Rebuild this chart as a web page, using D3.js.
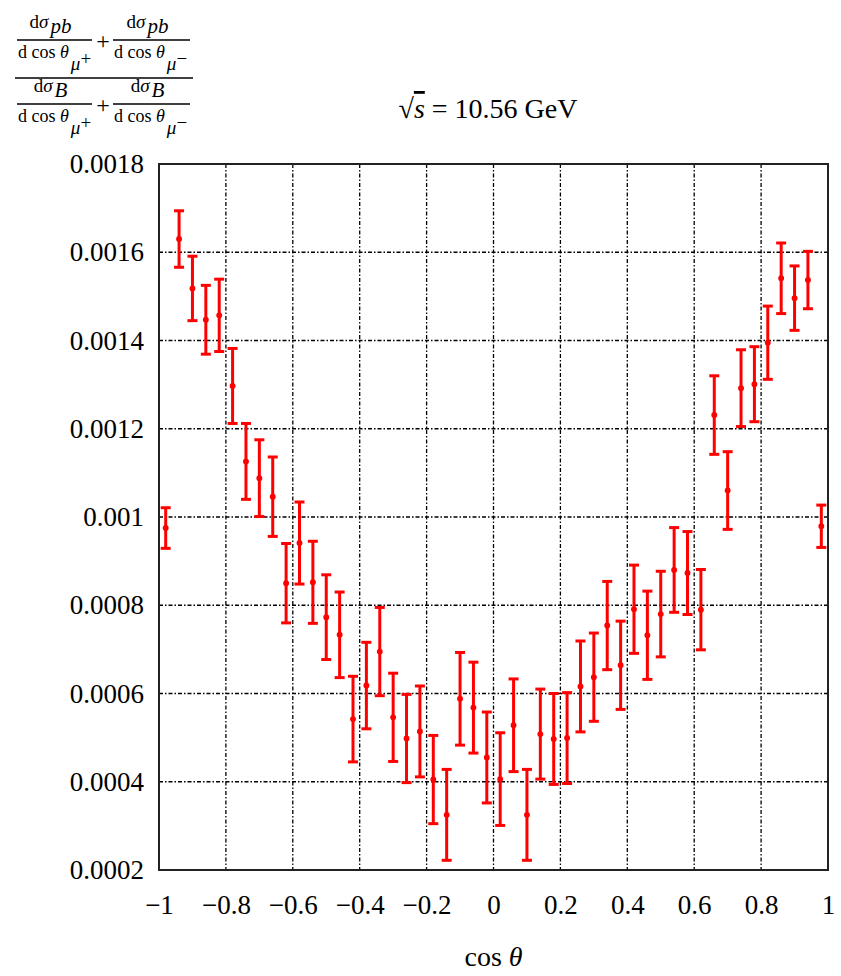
<!DOCTYPE html>
<html>
<head>
<meta charset="utf-8">
<script src="https://cdn.jsdelivr.net/npm/d3@7"></script>
<style>
  body { margin: 0; background: #fff; }
  svg text { font-family: "Liberation Serif", "DejaVu Serif", serif; fill: #000; }
  .grid line { stroke: #000; stroke-width: 1.3; stroke-dasharray: 4,2,1.5,2; }
</style>
</head>
<body>
<div id="chart"></div>
<script>

// bin centres in cos(theta)
var cosTheta = [-0.98, -0.94, -0.90, -0.86, -0.82, -0.78, -0.74, -0.70, -0.66, -0.62,
  -0.58, -0.54, -0.50, -0.46, -0.42, -0.38, -0.34, -0.30, -0.26, -0.22,
  -0.18, -0.14, -0.10, -0.06, -0.02, 0.02, 0.06, 0.10, 0.14, 0.18,
  0.22, 0.26, 0.30, 0.34, 0.38, 0.42, 0.46, 0.50, 0.54, 0.58,
  0.62, 0.66, 0.70, 0.74, 0.78, 0.82, 0.86, 0.90, 0.94, 0.98];

// ratio values
var ratio = [0.000975, 0.00163, 0.001518, 0.001447, 0.001457, 0.001297, 0.001126, 0.001088, 0.001046, 0.00085,
  0.000941, 0.000852, 0.000773, 0.000733, 0.000542, 0.000618, 0.000695, 0.000546, 0.000498, 0.000514,
  0.000405, 0.000325, 0.000588, 0.000568, 0.000455, 0.000406, 0.000528, 0.000325, 0.000508, 0.000497,
  0.000499, 0.000616, 0.000637, 0.000754, 0.000664, 0.000791, 0.000732, 0.00078, 0.00088, 0.000873,
  0.00079, 0.001231, 0.00106, 0.001292, 0.001301, 0.001395, 0.001541, 0.001496, 0.001537, 0.000979];

// symmetric errors
var ratioErr = [0.000046, 0.000064, 0.000073, 0.000078, 0.000082, 0.000085, 0.000086, 0.000087, 0.00009, 0.00009,
  0.000093, 0.000093, 0.000096, 0.000097, 0.000097, 0.000098, 0.0001, 0.0001, 0.0001, 0.000103,
  0.0001, 0.000103, 0.000105, 0.000103, 0.000103, 0.000105, 0.000105, 0.000103, 0.000102, 0.000103,
  0.000103, 0.000103, 0.0001, 0.0001, 0.0001, 0.0001, 0.0001, 0.000097, 0.000096, 0.000094,
  0.000091, 0.000089, 0.000088, 0.000087, 0.000085, 0.000083, 0.00008, 0.000073, 0.000065, 0.000048];

var xTicks = [-1, -0.8, -0.6, -0.4, -0.2, 0, 0.2, 0.4, 0.6, 0.8, 1];
var yTicks = [0.0002, 0.0004, 0.0006, 0.0008, 0.001, 0.0012, 0.0014, 0.0016, 0.0018];

var width = 841, height = 976;
var margin = { top: 164, right: 13, bottom: 106, left: 159 };
var w = width - margin.left - margin.right;
var h = height - margin.top - margin.bottom;

var svg = d3.select("#chart").append("svg")
    .attr("width", width)
    .attr("height", height);

var g = svg.append("g")
    .attr("transform", "translate(" + margin.left + "," + margin.top + ")");

var x = d3.scaleLinear().domain([-1, 1]).range([0, w]);
var y = d3.scaleLinear().domain([0.0002, 0.0018]).range([h, 0]);

// grid
var grid = g.append("g").classed("grid", true);
grid.selectAll("line.v").data(xTicks.slice(1, -1)).enter().append("line")
    .attr("x1", d => x(d)).attr("x2", d => x(d))
    .attr("y1", 0).attr("y2", h);
grid.selectAll("line.h").data(yTicks.slice(1, -1)).enter().append("line")
    .attr("x1", 0).attr("x2", w)
    .attr("y1", d => y(d)).attr("y2", d => y(d));

// axes (labels only, frame drawn below)
var fmtX = d => String(+d.toFixed(1)).replace("-", "\u2212");
var fmtY = d => String(+d.toFixed(4));

var xAxis = g.append("g")
    .attr("transform", "translate(0," + h + ")")
    .call(d3.axisBottom(x).tickValues(xTicks).tickFormat(fmtX).tickSize(0).tickPadding(25));
var yAxis = g.append("g")
    .call(d3.axisLeft(y).tickValues(yTicks).tickFormat(fmtY).tickSize(0).tickPadding(15));
[xAxis, yAxis].forEach(function (a) {
  a.select(".domain").remove();
  a.selectAll("text").style("font-size", "27px").attr("fill", "#000");
});

g.append("rect")
    .attr("width", w).attr("height", h)
    .attr("fill", "none").attr("stroke", "#222").attr("stroke-width", 2);

// error bars
var pts = cosTheta.map(function (c, i) {
  return { c: c, v: ratio[i], e: ratioErr[i] };
});
var bars = g.append("g").attr("stroke", "#ff0000").attr("stroke-width", 3).attr("fill", "#ff0000");
var bar = bars.selectAll("g.pt").data(pts).enter().append("g").classed("pt", true);
bar.append("line")
    .attr("x1", d => x(d.c)).attr("x2", d => x(d.c))
    .attr("y1", d => y(d.v + d.e)).attr("y2", d => y(d.v - d.e));
bar.append("line")
    .attr("x1", d => x(d.c) - 5).attr("x2", d => x(d.c) + 5)
    .attr("y1", d => y(d.v + d.e)).attr("y2", d => y(d.v + d.e));
bar.append("line")
    .attr("x1", d => x(d.c) - 5).attr("x2", d => x(d.c) + 5)
    .attr("y1", d => y(d.v - d.e)).attr("y2", d => y(d.v - d.e));
bar.append("circle")
    .attr("cx", d => x(d.c)).attr("cy", d => y(d.v))
    .attr("r", 2.2).attr("stroke-width", 1.5);

// x label
var xl = svg.append("text")
    .attr("x", margin.left + x(0)).attr("y", 966)
    .attr("text-anchor", "middle").style("font-size", "28px");
xl.append("tspan").text("cos ");
xl.append("tspan").style("font-style", "italic").text("θ");

// title
var t = svg.append("text")
    .attr("x", 488).attr("y", 118)
    .attr("text-anchor", "middle").style("font-size", "28px");
t.append("tspan").text("\u221A");
t.append("tspan").style("font-style", "italic").style("text-decoration", "overline").text("s");
t.append("tspan").text(" = 10.56 GeV");

// y label: ratio of summed differential cross sections
var lab = svg.append("g");
function frac(x0, x1, lineY, sub, sign) {
  var cx = (x0 + x1) / 2;
  var num = lab.append("text").attr("x", cx - 4).attr("y", lineY - 12)
      .attr("text-anchor", "middle").style("font-size", "19px");
  num.append("tspan").text("d");
  num.append("tspan").style("font-style", "italic").text("σ");
  num.append("tspan").attr("dx", 2).attr("dy", 5).style("font-style", "italic").style("font-size", "21px").text(sub);
  lab.append("line").attr("x1", x0).attr("x2", x1).attr("y1", lineY).attr("y2", lineY)
      .attr("stroke", "#000").attr("stroke-width", 1.4);
  var d = lab.append("text").attr("x", x0 + 1).attr("y", lineY + 18)
      .style("font-size", "18px");
  d.append("tspan").text("d cos ");
  d.append("tspan").style("font-style", "italic").text("θ");
  d.append("tspan").attr("dx", 2).attr("dy", 12).style("font-style", "italic").style("font-size", "19px").text("μ");
  d.append("tspan").attr("dy", -5).style("font-size", "19px").text(sign);
}
[[40, "pb"], [104, "B"]].forEach(function (row) {
  frac(17, 92, row[0], row[1], "+");
  lab.append("text").attr("x", 103).attr("y", row[0] + 9).attr("text-anchor", "middle")
      .style("font-size", "24px").text("+");
  frac(113, 190, row[0], row[1], "\u2212");
});
lab.append("line").attr("x1", 15).attr("x2", 193).attr("y1", 78).attr("y2", 78)
    .attr("stroke", "#000").attr("stroke-width", 1.6);

</script>
</body>
</html>
